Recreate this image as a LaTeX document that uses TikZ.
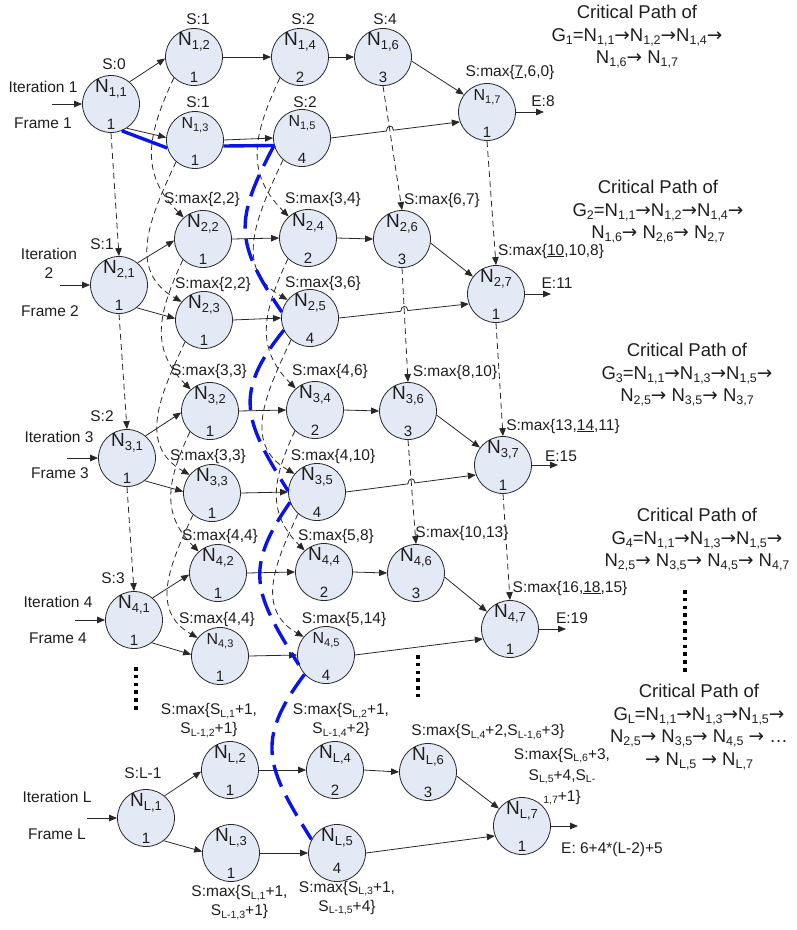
\documentclass[tikz,border=0pt]{standalone}
\usepackage{fontspec}
\setmainfont{Liberation Sans}
\newfontfamily\arrfont{DejaVu Sans}
\usetikzlibrary{arrows.meta,calc,intersections}
\definecolor{nodefill}{RGB}{227,233,245}
\definecolor{linec}{RGB}{40,40,40}
\definecolor{txt}{RGB}{30,30,30}
\definecolor{critblue}{RGB}{10,20,230}
\newcommand{\Nb}[1]{{\fontsize{19}{19}\selectfont N}\raisebox{-3.5pt}{\fontsize{13}{13}\selectfont #1}}
\newcommand{\Ns}[1]{{\fontsize{16}{16}\selectfont N}\raisebox{-3pt}{\fontsize{11}{11}\selectfont #1}}
\newcommand{\lsub}[1]{\raisebox{-2.5pt}{\fontsize{10.5}{10.5}\selectfont #1}}
\newcommand{\rsub}[1]{\raisebox{-3pt}{\fontsize{12.5}{12.5}\selectfont #1}}
\newcommand{\ra}{{\arrfont →}}
\newcommand{\tasknode}[6]{%
  \node[task] (#1) at (#2,-#3) {};
  \node[inner sep=0pt, anchor=base, text=txt] (#1t) at (#2,-#3+11.5) {#6{#4}};
  \node[numlab] (#1n) at (#2,-#3-20.5) {#5};
}
\begin{document}
\begin{tikzpicture}[x=1pt,y=1pt,
 task/.style={circle,draw=linec,fill=nodefill,minimum size=57pt,inner sep=0pt,line width=0.8pt},
 numlab/.style={inner sep=0pt,text=txt,font=\fontsize{15}{15}\selectfont},
 lab/.style={inner sep=0pt,text=txt,font=\fontsize{15.5}{19}\selectfont,align=center},
 big/.style={inner sep=0pt,text=txt,font=\fontsize{18.5}{22.5}\selectfont,align=center,anchor=north},
 flow/.style={draw=linec,line width=0.8pt,-{Triangle[length=8pt,width=6.5pt]}},
 dep/.style={flow,dash pattern=on 6pt off 4pt},
 crit/.style={draw=critblue,line width=3.4pt},
 critd/.style={crit,dash pattern=on 23pt off 10pt},
 vdots/.style={draw=black,line width=3.2pt,dash pattern=on 3.5pt off 4.3pt},
]
\useasboundingbox (0,0) rectangle (797,-930);

% ---------- task nodes ----------
\tasknode{n11}{111}{104}{1,1}{1}{\Nb}
\tasknode{n12}{194}{57}{1,2}{1}{\Nb}
\tasknode{n14}{300}{57}{1,4}{2}{\Nb}
\tasknode{n16}{383}{57}{1,6}{3}{\Nb}
\tasknode{n13}{195}{140}{1,3}{1}{\Ns}
\tasknode{n15}{302}{138}{1,5}{4}{\Ns}
\tasknode{n17}{487}{112}{1,7}{1}{\Ns}

\tasknode{n21}{119}{285}{2,1}{1}{\Nb}
\tasknode{n22}{203}{239}{2,2}{1}{\Nb}
\tasknode{n24}{308}{238}{2,4}{2}{\Nb}
\tasknode{n26}{402}{239}{2,6}{3}{\Nb}
\tasknode{n23}{204}{320}{2,3}{1}{\Nb}
\tasknode{n25}{310}{318}{2,5}{4}{\Nb}
\tasknode{n27}{496}{294}{2,7}{1}{\Nb}

\tasknode{n31}{127}{458}{3,1}{1}{\Nb}
\tasknode{n32}{210}{411}{3,2}{1}{\Nb}
\tasknode{n34}{315}{410}{3,4}{2}{\Nb}
\tasknode{n36}{408}{411}{3,6}{3}{\Nb}
\tasknode{n33}{212}{493}{3,3}{1}{\Nb}
\tasknode{n35}{317}{492}{3,5}{4}{\Nb}
\tasknode{n37}{503}{465}{3,7}{1}{\Nb}

\tasknode{n41}{134}{620}{4,1}{1}{\Nb}
\tasknode{n42}{218}{573}{4,2}{1}{\Nb}
\tasknode{n44}{324}{572}{4,4}{2}{\Nb}
\tasknode{n46}{416}{573}{4,6}{3}{\Nb}
\tasknode{n43}{220}{656}{4,3}{1}{\Ns}
\tasknode{n45}{326}{655}{4,5}{4}{\Ns}
\tasknode{n47}{510}{629}{4,7}{1}{\Nb}

\tasknode{nL1}{146}{818}{L,1}{1}{\Nb}
\tasknode{nL2}{230}{770}{L,2}{1}{\Nb}
\tasknode{nL4}{335}{770}{L,4}{2}{\Nb}
\tasknode{nL6}{428}{772}{L,6}{3}{\Nb}
\tasknode{nL3}{231}{853}{L,3}{1}{\Nb}
\node[task] (nL5) at (337,-853) {};
\node[inner sep=0pt, anchor=base, text=txt] (nL5t) at (337,-853+11.5) {\Nb{L,5}};
\node[numlab] (nL5n) at (337,-868.5) {4};
\tasknode{nL7}{522}{826}{L,7}{1}{\Nb}

% ---------- labels ----------
\node[lab] (it1) at (43,-87) {Iteration 1};
\node[lab] (fr1) at (43,-123) {Frame 1};
\node[lab] (s11) at (114,-64) {S:0};
\node[lab] (s12) at (198,-19) {S:1};
\node[lab] (s14) at (303,-19) {S:2};
\node[lab] (s16) at (385,-19) {S:4};
\node[lab] (s13) at (198,-102) {S:1};
\node[lab] (s15) at (305,-102) {S:2};
\node[lab] (s17) at (510,-72) {S:max\{\underline{7},6,0\}};
\node[lab] (e1l) at (543,-101) {E:8};

\node[lab] (it2) at (49,-263) {Iteration\\2};
\node[lab] (fr2) at (50,-311) {Frame 2};
\node[lab] (s21) at (102,-244) {S:1};
\node[lab] (s22) at (202,-199) {S:max\{2,2\}};
\node[lab] (s24) at (323,-199) {S:max\{3,4\}};
\node[lab] (s23) at (213,-284) {S:max\{2,2\}};
\node[lab] (s25) at (323,-283) {S:max\{3,6\}};
\node[lab] (s26) at (442,-200) {S:max\{6,7\}};
\node[lab] (s27) at (551,-251) {S:max\{\underline{10},10,8\}};
\node[lab] (e2l) at (557,-283) {E:11};

\node[lab] (it3) at (59,-437) {Iteration 3};
\node[lab] (fr3) at (60,-473) {Frame 3};
\node[lab] (s31) at (102,-416) {S:2};
\node[lab] (s32) at (209,-371) {S:max\{3,3\}};
\node[lab] (s34) at (330,-371) {S:max\{4,6\}};
\node[lab] (s33) at (208,-456) {S:max\{3,3\}};
\node[lab] (s35) at (333,-456) {S:max\{4,10\}};
\node[lab] (s36) at (455,-372) {S:max\{8,10\}};
\node[lab] (s37) at (563,-426) {S:max\{13,\underline{14},11\}};
\node[lab] (e3l) at (561,-456) {E:15};

\node[lab] (it4) at (58,-602) {Iteration 4};
\node[lab] (fr4) at (58,-638) {Frame 4};
\node[lab] (s41) at (113,-578) {S:3};
\node[lab] (s42) at (220,-536) {S:max\{4,4\}};
\node[lab] (s44) at (336,-536) {S:max\{5,8\}};
\node[lab] (s43) at (217,-619) {S:max\{4,4\}};
\node[lab] (s45) at (344,-619) {S:max\{5,14\}};
\node[lab] (s46) at (462,-533) {S:max\{10,13\}};
\node[lab] (s47) at (570,-588) {S:max\{16,\underline{18},15\}};
\node[lab] (e4l) at (572,-618) {E:19};

\node[lab] (itL) at (57,-797) {Iteration L};
\node[lab] (frL) at (57,-834) {Frame L};
\node[lab] (sL1) at (143,-773) {S:L-1};
\node[lab] (sL2) at (209,-720.5) {S:max\{S\lsub{L,1}+1,\\S\lsub{L-1,2}+1\}};
\node[lab] (sL4) at (341,-720.5) {S:max\{S\lsub{L,2}+1,\\S\lsub{L-1,4}+2\}};
\node[lab] (sL3) at (239.5,-902.5) {S:max\{S\lsub{L,1}+1,\\S\lsub{L-1,3}+1\}};
\node[lab] (sL5) at (347,-898) {S:max\{S\lsub{L,3}+1,\\S\lsub{L-1,5}+4\}};
\node[lab] (sL6) at (488,-732) {S:max\{S\lsub{L,4}+2,S\lsub{L-1,6}+3\}};
\node[lab,anchor=north,font=\fontsize{15.5}{21}\selectfont] (sL7) at (562,-748) {S:max\{S\lsub{L,6}+3,\\S\lsub{L,5}+4,S\lsub{L-}\\\lsub{1,7}+1\}};
\node[lab] (eLl) at (612,-849) {E: 6+4*(L-2)+5};

% ---------- critical path texts ----------
\node[big] (cp1) at (637,-5) {Critical Path of\\G\rsub{1}=N\rsub{1,1}\ra N\rsub{1,2}\ra N\rsub{1,4}\ra\\N\rsub{1,6}\ra{} N\rsub{1,7}};
\node[big] (cp2) at (658,-180) {Critical Path of\\G\rsub{2}=N\rsub{1,1}\ra N\rsub{1,2}\ra N\rsub{1,4}\ra\\N\rsub{1,6}\ra{} N\rsub{2,6}\ra{} N\rsub{2,7}};
\node[big] (cp3) at (687,-343) {Critical Path of\\G\rsub{3}=N\rsub{1,1}\ra N\rsub{1,3}\ra N\rsub{1,5}\ra\\N\rsub{2,5}\ra{} N\rsub{3,5}\ra{} N\rsub{3,7}};
\node[big] (cp4) at (697,-508) {Critical Path of\\G\rsub{4}=N\rsub{1,1}\ra N\rsub{1,3}\ra N\rsub{1,5}\ra\\N\rsub{2,5}\ra{} N\rsub{3,5}\ra{} N\rsub{4,5}\ra{} N\rsub{4,7}};
\node[big] (cpL) at (699,-684) {Critical Path of\\G\rsub{L}=N\rsub{1,1}\ra N\rsub{1,3}\ra N\rsub{1,5}\ra\\N\rsub{2,5}\ra{} N\rsub{3,5}\ra{} N\rsub{4,5} \ra{} …\\\ra{} N\rsub{L,5} \ra{} N\rsub{L,7}};

% ---------- vertical dots ----------
\draw[vdots] (136,-667) -- (136,-712);
\draw[vdots] (418,-655) -- (418,-697);
\draw[vdots] (685,-590) -- (685,-673);

% ---------- inputs and outputs ----------
\coordinate (in1) at (52,-104);
\coordinate (in2) at (60,-285);
\coordinate (in3) at (67,-458);
\coordinate (in4) at (75,-620);
\coordinate (inL) at (87,-818);
\coordinate (out1) at (544,-112);
\coordinate (out2) at (551,-294);
\coordinate (out3) at (558,-465);
\coordinate (out4) at (566,-629);
\coordinate (outL) at (578,-826);
\foreach \r in {1,2,3,4,L}{
  \draw[flow] (in\r) -- (n\r1.west);
  \draw[flow] (n\r7.east) -- (out\r);
}

% ---------- intra-iteration edges ----------
\foreach \r in {1,2,3,4,L}{
  \draw[flow] (n\r1.50) -- (n\r2.183);
  \draw[flow] (n\r2.east) -- (n\r4.west);
  \draw[flow] (n\r3.east) -- (n\r5.west);
  \draw[flow] (n\r4.east) -- (n\r6.west);
  \draw[flow] (n\r6.352) -- (n\r7.143);
}
\draw[flow] (n11.303) -- (n13.175);
\foreach \r in {2,3,4,L}{
  \draw[flow] (n\r1.308) -- (n\r3.177);
}
\draw[flow] (n45.east) -- (n47.200);
\draw[flow] (nL5.east) -- (nL7.200);

% ---------- inter-iteration dependencies ----------
\foreach \a/\b in {1/2,2/3,3/4}{
  \draw[dep] (n\a1.south) -- (n\b1.north);
  \draw[dep] (n\a2.226) to[out=245,in=135,looseness=1.15] (n\b2.132);
  \draw[dep] (n\a3.229) to[out=245,in=150,looseness=1.15] (n\b3.141);
  \draw[dep] (n\a4.226) to[out=245,in=135,looseness=1.15] (n\b4.132);
  \draw[dep] (n\a5.229) to[out=245,in=150,looseness=1.15] (n\b5.141);
  \draw[dep] (n\a6.south) -- (n\b6.north);
  \draw[dep] (n\a7.south) -- (n\b7.north);
}

% ---------- N5 -> N7 edges hopping over the dashed N6 line ----------
\foreach \a/\b in {1/2,2/3,3/4}{
  \path[name path=hl] (n\a5.east) -- (n\a7.200);
  \path[name path=vl] (n\a6.south) -- (n\b6.north);
  \path[name intersections={of=hl and vl,by=xx}];
  \coordinate (pa) at ($(xx)!3.5pt!(n\a5.east)$);
  \coordinate (pb) at ($(xx)!3.5pt!(n\a7.200)$);
  \draw[flow] (n\a5.east) -- (pa) .. controls ($(pa)+(0,6)$) and ($(pb)+(0,6)$) .. (pb) -- (n\a7.200);
}

% ---------- critical path highlight ----------
\draw[crit] (n11.292) -- (n13.196);
\draw[crit] (n13.348) -- (n15.195);
\draw[critd] (n15.195) to[out=242,in=124,looseness=1.3] (n25.168);
\draw[critd] (n25.205) to[out=231,in=122,looseness=1.3] (n35.178);
\draw[critd] (n35.201) to[out=235,in=122,looseness=1.3] (n45.200);
\draw[critd] (n45.222) to[out=233,in=122,looseness=1.3] (nL5.152);
\end{tikzpicture}
\end{document}
